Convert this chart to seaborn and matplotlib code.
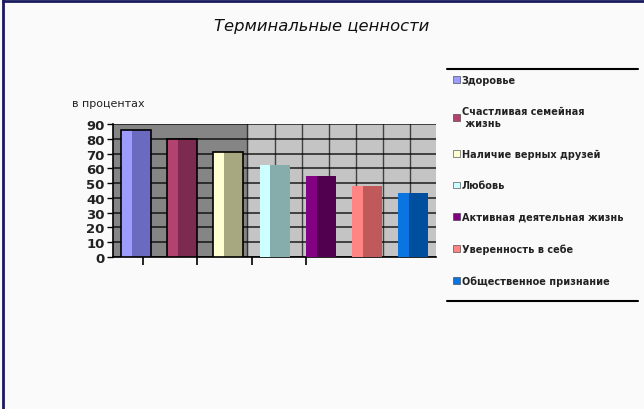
import numpy as np
import pandas as pd
import matplotlib
matplotlib.use("Agg")
import matplotlib.pyplot as plt
import seaborn as sns
from matplotlib.patches import Patch, Rectangle
from matplotlib.lines import Line2D
from matplotlib.ticker import FixedLocator

# values (percent)
values = ["Здоровье", "Счастливая семейная\n жизнь", "Наличие верных друзей", "Любовь",
          "Активная деятельная жизнь", "Уверенность в себе", "Общественное признание"]
percent = [86, 80, 71, 62, 55, 48, 43]
front_colors = ["#9c9cff", "#b4426f", "#ffffd2", "#ccffff", "#820082", "#ff8484", "#0a74e0"]
side_colors = ["#6a6ac0", "#7c2a50", "#a8a880", "#86acac", "#50004f", "#c05a5a", "#004e9e"]
yticks = [0, 10, 20, 30, 40, 50, 60, 70, 80, 90]

df = pd.DataFrame({"value": values, "percent": percent})

sns.set_style("white")
plt.rcParams['font.family'] = ['DejaVu Sans']

fig = plt.figure(figsize=(6.44, 4.10), dpi=100)
fig.patch.set_facecolor("#fafafa")
ax = fig.add_axes([0.1755, 0.371, 0.502, 0.324])
ax.set_facecolor("#c4c4c4")

sns.barplot(data=df, x="value", y="percent", hue="value", palette=side_colors,
            saturation=1, width=0.65, legend=False, ax=ax, zorder=3, linewidth=0)

# lighter front strip + outlines on the bars
bars = list(ax.patches)
for i, p in enumerate(bars):
    x0, y0 = p.get_x(), p.get_y()
    w, h = p.get_width(), p.get_height()
    ax.add_patch(Rectangle((x0, y0), w * 0.36, h, facecolor=front_colors[i],
                           edgecolor="none", zorder=4))
    if i < 3:
        ax.add_patch(Rectangle((x0, y0), w, h, facecolor="none",
                               edgecolor="black", linewidth=1.2, zorder=5))

# darker left wall part
ax.axvspan(-0.5, 2.41, color="#858585", zorder=0)

ax.set_xlim(-0.5, 6.5)
ax.set_ylim(0, 90)
ax.set_yticks(yticks)
ax.set_yticklabels([str(t) for t in yticks], fontsize=9.5, fontweight="bold", color="#222222")
ax.tick_params(axis="y", direction="out", length=4, width=1, color="black", pad=2, left=True)
ax.set_xticks([0.152, 1.326, 2.5, 3.674])
ax.set_xticklabels([])
ax.tick_params(axis="x", direction="out", length=6, width=1.2, color="black", bottom=True)
ax.xaxis.set_minor_locator(FixedLocator(np.arange(2.41, 6.5, 0.587)))
ax.tick_params(axis="x", which="minor", length=0)
ax.grid(axis="y", color="black", linewidth=1.1, alpha=0.85, zorder=1)
ax.grid(axis="x", which="minor", color="#202020", linewidth=1.0, alpha=0.8, zorder=1)
ax.grid(axis="x", which="major", visible=False)
ax.set_axisbelow(True)
ax.set_xlabel("")
ax.set_ylabel("")
for s in ["top", "right"]:
    ax.spines[s].set_visible(False)
ax.spines["left"].set_color("black")
ax.spines["bottom"].set_color("black")
ax.spines["left"].set_linewidth(1.2)
ax.spines["bottom"].set_linewidth(1.2)

fig.text(0.112, 0.74, "в процентах", fontsize=8, color="#222222")
fig.text(0.5, 0.935, "Терминальные ценности", fontsize=11.8, style="italic",
         ha="center", va="center", color="#111111")

handles = [Patch(facecolor=c, edgecolor="#333333", linewidth=0.4) for c in front_colors]
fig.legend(handles, values, loc="upper left", bbox_to_anchor=(0.697, 0.825),
           frameon=False, prop={"size": 7, "weight": "bold"}, handlelength=0.7,
           handleheight=0.7, handletextpad=0.2, labelspacing=2.2, borderaxespad=0,
           labelcolor="#222222")

# legend rules and figure border
fig.add_artist(Line2D([0.694, 0.99], [0.829, 0.829], color="black", linewidth=1.5))
fig.add_artist(Line2D([0.694, 0.99], [0.263, 0.263], color="black", linewidth=1.5))
fig.add_artist(Line2D([0.004, 0.004], [0.0, 0.998], color="#1a1a5e", linewidth=2))
fig.add_artist(Line2D([0.004, 1.0], [0.996, 0.996], color="#1a1a5e", linewidth=2))

fig.savefig("out.png", dpi=100, facecolor=fig.get_facecolor())
